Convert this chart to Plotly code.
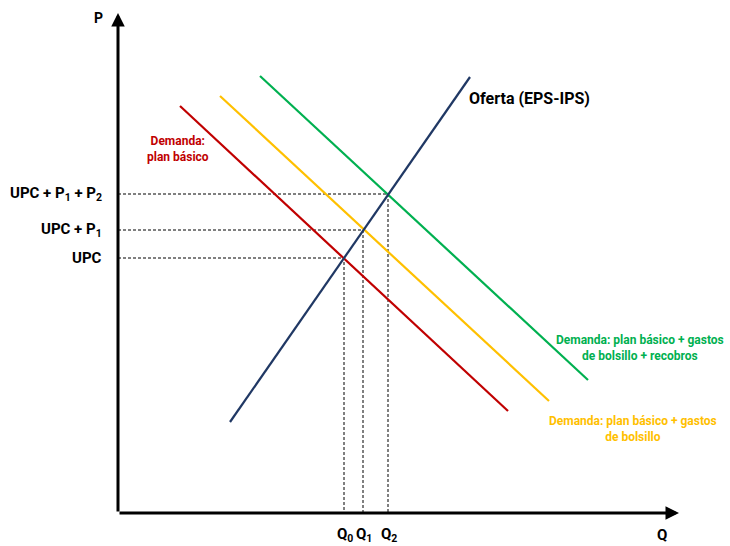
import plotly.graph_objects as go

# Curves (chart units: quantity on x, price on y)
supply_q = [112, 352]
supply_p = [91, 436]
red_q = [62, 390]
red_p = [407, 102]
yellow_q = [102, 431]
yellow_p = [417, 112]
green_q = [142, 470]
green_p = [437, 133]

# Equilibria
eq_q = [226, 245, 270]
eq_p = [255, 283, 319]
price_labels = ["UPC", "UPC + P<sub>1</sub>", "UPC + P<sub>1</sub> + P<sub>2</sub>"]
qty_labels = ["Q<sub>0</sub>", "Q<sub>1</sub>", "Q<sub>2</sub>"]

FONT = "Roboto, Liberation Sans, sans-serif"
RED = "#C00000"
YELLOW = "#FFC000"
GREEN = "#00B050"
NAVY = "#203864"

fig = go.Figure()

# dashed guides
for q, p in zip(eq_q, eq_p):
    fig.add_trace(go.Scatter(x=[0, q, q], y=[p, p, 0], mode="lines",
                             line=dict(color="black", width=1, dash="3px,2px"),
                             hoverinfo="skip", showlegend=False))

for xs, ys, c in [(red_q, red_p, RED), (yellow_q, yellow_p, YELLOW),
                  (green_q, green_p, GREEN), (supply_q, supply_p, NAVY)]:
    fig.add_trace(go.Scatter(x=xs, y=ys, mode="lines", line=dict(color=c, width=2.2),
                             hoverinfo="skip", showlegend=False))

# axes with arrows
fig.add_annotation(x=0, y=500, ax=0, ay=0, xref="x", yref="y", axref="x", ayref="y",
                   showarrow=True, arrowhead=2, arrowsize=0.9, arrowwidth=3, arrowcolor="black", text="")
fig.add_annotation(x=561, y=0, ax=0, ay=0, xref="x", yref="y", axref="x", ayref="y",
                   showarrow=True, arrowhead=2, arrowsize=0.9, arrowwidth=3, arrowcolor="black", text="")

lab_font = dict(family=FONT, size=15, color="black")
fig.add_annotation(x=-20, y=495, text="<b>P</b>", showarrow=False, font=dict(family=FONT, size=14, color="black"))
fig.add_annotation(x=544, y=-22, text="<b>Q</b>", showarrow=False, font=dict(family=FONT, size=15, color="black"))

for q, lab in zip(eq_q, qty_labels):
    fig.add_annotation(x=q + 1, y=-22, text="<b>" + lab + "</b>", showarrow=False, font=lab_font)
for p, lab in zip(eq_p, price_labels):
    fig.add_annotation(x=-14, y=p, text="<b>" + lab + "</b>", showarrow=False, xanchor="right", font=lab_font)

fig.add_annotation(x=349, y=415, text="<b>Oferta (EPS-IPS)</b>", showarrow=False, xanchor="left",
                   font=dict(family=FONT, size=16, color="black"))
fig.add_annotation(x=60, y=364, text="<b>Demanda:<br>plan básico</b>", showarrow=False,
                   font=dict(family=FONT, size=12, color=RED))
fig.add_annotation(x=522, y=165, text="<b>Demanda: plan básico + gastos<br>de bolsillo + recobros</b>",
                   showarrow=False, font=dict(family=FONT, size=12, color=GREEN))
fig.add_annotation(x=515, y=84, text="<b>Demanda: plan básico + gastos<br>de bolsillo</b>",
                   showarrow=False, font=dict(family=FONT, size=12, color=YELLOW))

fig.update_xaxes(range=[-118, 612], visible=False, fixedrange=True)
fig.update_yaxes(range=[-33, 513], visible=False, fixedrange=True)
fig.update_layout(width=730, height=546, margin=dict(l=0, r=0, t=0, b=0),
                  plot_bgcolor="white", paper_bgcolor="white", showlegend=False)

fig.write_html("out.html", config={"displayModeBar": False},
               post_script="document.body.style.margin='0';document.body.style.overflow='hidden';")
